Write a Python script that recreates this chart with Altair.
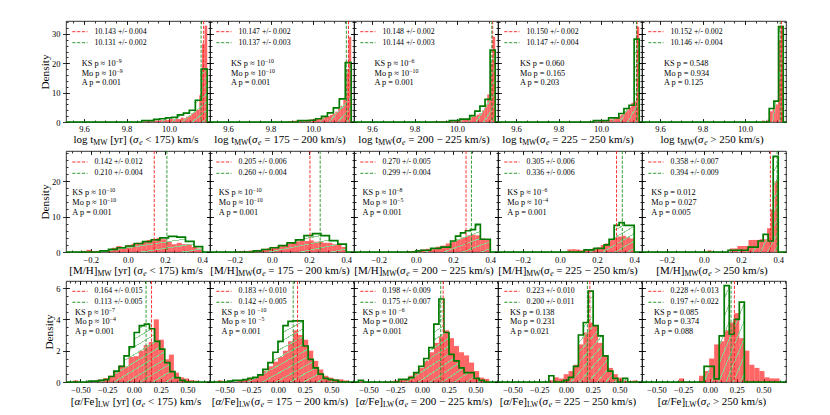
import altair as alt
import numpy as np
import pandas as pd

# ------------------------------------------------------------------ data
# rows: 0 = log t_MW, 1 = [M/H]_MW, 2 = [alpha/Fe]_LW ; 5 sigma_e bins each
AGE_RED_START = [9.88, 9.88, 9.88, 9.88, 9.88]
AGE_RED_WIDTH = [0.0125, 0.0125, 0.0125, 0.0125, 0.0125]
AGE_RED = [
    [0.2, 0.3, 0.3, 0.4, 0.5, 0.4, 0.6, 0.6, 0.8, 0.7, 1.0, 0.9, 1.2, 1.0, 1.5, 1.3, 1.8, 2.2, 3.0, 3.9, 4.2, 9.1, 26.7, 32.8],
    [0.3, 0.3, 0.4, 0.5, 0.5, 0.6, 0.6, 0.7, 0.8, 0.9, 1.0, 1.1, 1.3, 1.5, 1.8, 2.0, 2.4, 2.8, 3.5, 4.5, 5.5, 7.5, 18.0, 29.0],
    [0.1, 0.1, 0.2, 0.2, 0.3, 0.3, 0.4, 0.4, 0.5, 0.6, 0.7, 0.8, 1.0, 1.1, 1.4, 1.7, 2.0, 2.5, 3.0, 4.0, 6.0, 9.4, 20.0, 29.0],
    [0.0, 0.0, 0.0, 0.0, 0.1, 0.1, 0.2, 0.2, 0.3, 0.3, 0.4, 0.5, 0.7, 0.9, 1.2, 1.6, 2.0, 2.5, 3.5, 4.0, 5.0, 6.5, 7.0, 32.5],
    [0, 0, 0, 0, 0, 0, 0, 0, 0, 0, 0, 0, 0, 0, 0, 0, 0.5, 0, 0.8, 3.7, 4.5, 6.0, 28.0, 32.8],
]
AGE_GREEN_START = [9.872, 9.928, 9.964, 9.964, 10.114]
AGE_GREEN_WIDTH = [0.028, 0.028, 0.024, 0.024, 0.022]
AGE_GREEN = [
    [0.5, 0.5, 0.9, 1.1, 1.4, 1.6, 2.4, 3.0, 4.0, 7.4, 18.0],
    [0.5, 0.5, 0.6, 1.1, 1.9, 3.1, 4.8, 7.9, 20.2],
    [0.5, 0.5, 1.0, 1.0, 2.2, 3.7, 5.4, 7.7, 24.5],
    [0.5, 0.5, 0.5, 1.4, 1.4, 2.9, 4.6, 5.7, 28.2],
    [4.6, 7.1, 32.5],
]

MH_RED_START = [-0.25, -0.20, -0.053, 0.04, 0.0]
MH_RED_WIDTH = [0.027, 0.025, 0.0267, 0.0225, 0.02]
MH_RED = [
    [0.3, 0.6, 0.2, 0.3, 0.3, 0.5, 1.2, 1.7, 1.2, 2.0, 2.3, 2.6, 3.1, 3.4, 3.1, 4.0, 3.6, 3.1, 2.2, 2.6, 2.2, 2.2, 1.4, 1.0],
    [0.2, 0.3, 0.2, 0.4, 0.5, 0.6, 0.9, 1.1, 1.4, 1.6, 2.0, 2.3, 2.7, 3.0, 3.3, 3.1, 3.3, 2.9, 3.1, 2.6, 2.6, 2.2, 2.0, 1.4],
    [0.2, 0.3, 0.4, 0.75, 0.9, 1.0, 1.5, 1.8, 2.4, 2.8, 3.6, 4.1, 4.6, 4.9, 4.7, 3.8, 3.4],
    [0.7, 0.8, 0.7, 0.5, 0.5, 0.6, 1.1, 1.3, 2.0, 2.4, 3.6, 4.1, 4.4, 4.6, 4.2, 3.8],
    [0, 0.5, 0, 0, 0, 0, 0, 1.0, 1.0, 1.7, 1.7, 1.7, 3.4, 3.4, 3.4, 3.6, 3.6, 6.7, 12.0, 20.0],
]
MH_GREEN_START = [-0.15, -0.10, 0.0, 0.13, 0.13]
MH_GREEN_WIDTH = [0.046, 0.0455, 0.0267, 0.027, 0.027]
MH_GREEN = [
    [0.3, 0.75, 1.2, 1.7, 2.4, 2.9, 3.4, 4.0, 4.4, 4.2, 3.0, 1.5],
    [0.3, 0.7, 1.2, 1.8, 2.6, 3.4, 4.6, 5.2, 4.6, 3.2, 2.2],
    [0.3, 0.5, 0.5, 1.0, 1.0, 1.4, 1.4, 3.1, 4.5, 5.4, 6.0, 6.3, 7.8, 3.6, 3.6],
    [0.6, 0.6, 1.0, 1.0, 2.0, 3.6, 7.5, 8.3, 7.5, 7.5],
    [0.5, 0.5, 0.5, 0.5, 1.4, 1.4, 3.1, 5.0, 3.1, 27.0],
]

AFE_RED_START = [-0.567, -0.564, -0.594, -0.16, -0.29]
AFE_RED_WIDTH = [0.047, 0.047, 0.047, 0.046, 0.047]
AFE_RED = [
    [0.1, 0, 0, 0.03, 0.1, 0.15, 0.25, 0.4, 0.65, 1.05, 1.0, 1.6, 1.65, 2.0, 2.35, 2.55, 4.0, 2.7, 1.45, 1.75, 0.6, 0.3, 0.22, 0.12, 0.08],
    [0.1, 0.03, 0.03, 0.05, 0.08, 0.15, 0.2, 0.3, 0.5, 0.7, 1.0, 1.3, 1.6, 2.0, 2.6, 3.3, 3.0, 2.7, 2.0, 1.35, 0.8, 0.4, 0.28, 0.17, 0.17, 0.1],
    [0.06, 0, 0, 0, 0, 0, 0.03, 0.1, 0.12, 0.17, 0.4, 0.6, 0.9, 1.35, 1.9, 2.5, 2.9, 3.3, 2.8, 2.3, 1.9, 1.7, 1.24, 0.7, 0.28, 0.2],
    [0.1, 0.3, 0.23, 0.5, 0.7, 1.1, 2.4, 3.16, 3.8, 3.6, 2.5, 1.67, 0.9, 0.5, 0.28, 0.06, 0.06, 0.1],
    [0.23, 0, 0, 0, 0.4, 0.7, 1.5, 2.4, 2.6, 3.3, 3.8, 4.4, 2.8, 2.0, 1.1, 0.9, 0.7, 0.3, 0.23, 0.23],
]
AFE_GREEN_START = [-0.425, -0.47, -0.594, -0.16, -0.055]
AFE_GREEN_WIDTH = [0.0475, 0.047, 0.047, 0.046, 0.047]
AFE_GREEN = [
    [0.05, 0.06, 0.1, 0.15, 0.35, 0.7, 1.0, 1.67, 2.24, 3.16, 3.6, 3.7, 3.4, 2.6, 2.1, 1.24, 0.66, 0.28, 0.1],
    [0.05, 0.1, 0.1, 0.15, 0.23, 0.3, 0.45, 0.8, 1.24, 1.9, 2.6, 3.6, 3.87, 3.9, 3.9, 2.3, 1.45, 0.9, 0.5, 0.23, 0.15, 0.1],
    [0.1, 0, 0, 0, 0, 0, 0, 0, 0.17, 0.17, 0.28, 0.6, 1.0, 1.5, 2.2, 3.7, 5.3, 3.16, 1.77, 1.35, 0.9, 0.6, 0.6, 0.23, 0.1],
    [0.4, 0, 0, 0.1, 0.3, 1.0, 3.0, 3.8, 5.8, 3.6, 2.95, 1.67, 0.7, 0.23, 0, 0.23],
    [1.0, 1.0, 0.2, 2.95, 6.15, 3.05, 4.0, 5.1],
]

# dashed vertical lines (positions) and legend labels
AGE_LINE_RED = [10.163, 10.167, 10.168, 10.170, 10.172]
AGE_LINE_GREEN = [10.151, 10.157, 10.164, 10.167, 10.166]
MH_LINE_RED = [0.142, 0.205, 0.270, 0.305, 0.358]
MH_LINE_GREEN = [0.210, 0.260, 0.299, 0.336, 0.394]
AFE_LINE_RED = [0.164, 0.183, 0.198, 0.223, 0.228]
AFE_LINE_GREEN = [0.113, 0.142, 0.175, 0.200, 0.197]

AGE_LEG_RED = ["10.143 +/- 0.004", "10.147 +/- 0.002", "10.148 +/- 0.002", "10.150 +/- 0.002", "10.152 +/- 0.002"]
AGE_LEG_GREEN = ["10.131 +/- 0.002", "10.137 +/- 0.003", "10.144 +/- 0.003", "10.147 +/- 0.004", "10.146 +/- 0.004"]
MH_LEG_RED = ["0.142 +/- 0.012", "0.205 +/- 0.006", "0.270 +/- 0.005", "0.305 +/- 0.006", "0.358 +/- 0.007"]
MH_LEG_GREEN = ["0.210 +/- 0.004", "0.260 +/- 0.004", "0.299 +/- 0.004", "0.336 +/- 0.006", "0.394 +/- 0.009"]
AFE_LEG_RED = ["0.164 +/- 0.015", "0.183 +/- 0.010", "0.198 +/- 0.009", "0.223 +/- 0.010", "0.228 +/- 0.013"]
AFE_LEG_GREEN = ["0.113 +/- 0.005", "0.142 +/- 0.005", "0.175 +/- 0.007", "0.200 +/- 0.011", "0.197 +/- 0.022"]

# statistics text ("^" starts a superscript)
AGE_STATS = [
    ["KS p ≈ 10^−9", "Mo p ≈ 10^−9", "A p = 0.001"],
    ["KS p ≈ 10^−10", "Mo p ≈ 10^−10", "A p = 0.001"],
    ["KS p ≈ 10^−6", "Mo p ≈ 10^−10", "A p = 0.001"],
    ["KS p = 0.060", "Mo p = 0.165", "A p = 0.203"],
    ["KS p = 0.548", "Mo p = 0.934", "A p = 0.125"],
]
MH_STATS = [
    ["KS p ≈ 10^−10", "Mo p ≈ 10^−10", "A p = 0.001"],
    ["KS p ≈ 10^−10", "Mo p ≈ 10^−10", "A p = 0.001"],
    ["KS p ≈ 10^−8", "Mo p ≈ 10^−5", "A p = 0.001"],
    ["KS p ≈ 10^−6", "Mo p ≈ 10^−4", "A p = 0.001"],
    ["KS p = 0.012", "Mo p = 0.027", "A p = 0.005"],
]
AFE_STATS = [
    ["KS p ≈ 10^−7", "Mo p ≈ 10^−4", "A p = 0.001"],
    ["KS p  ≈ 10^−10", "Mo p  ≈ 10^−5", "A p = 0.001"],
    ["KS p  ≈ 10^−6", "Mo p = 0.002", "A p = 0.001"],
    ["KS p = 0.138", "Mo p = 0.231", "A p = 0.021"],
    ["KS p = 0.085", "Mo p = 0.374", "A p = 0.088"],
]

# axis labels
XLABEL_HEAD = [
    [("log t", "n"), ("MW", "sub")],
    [("[M/H]", "n"), ("MW", "sub")],
    [("[", "n"), ("α", "i"), ("/Fe]", "n"), ("LW", "sub")],
]
XLABEL_OPEN = [" [yr] (", "(", "(", "(", "("]
XLABEL_TAIL = [" < 175) km/s", " = 175 − 200 km/s)", " = 200 − 225 km/s)", " = 225 − 250 km/s)", " > 250 km/s)"]

X_DOMAINS = [[9.515, 10.193], [-0.333, 0.442], [-0.635, 0.71]]
Y_DOMAINS = [[0, 34.4], [0, 28.5], [0, 6.45]]
X_MAJOR = [[9.6, 9.8, 10.0], [-0.2, 0.0, 0.2, 0.4], [-0.5, -0.25, 0.0, 0.25, 0.5]]
X_MINOR_STEP = [0.05, 0.05, 0.05]
Y_MAJOR = [[0, 10, 20, 30], [0, 10, 20], [0, 2, 4, 6]]
Y_MINOR_STEP = [2, 2, 0.5]
X_FORMAT = [".1f", ".1f", ".2f"]

RED_START = [AGE_RED_START, MH_RED_START, AFE_RED_START]
RED_WIDTH = [AGE_RED_WIDTH, MH_RED_WIDTH, AFE_RED_WIDTH]
RED_H = [AGE_RED, MH_RED, AFE_RED]
GREEN_START = [AGE_GREEN_START, MH_GREEN_START, AFE_GREEN_START]
GREEN_WIDTH = [AGE_GREEN_WIDTH, MH_GREEN_WIDTH, AFE_GREEN_WIDTH]
GREEN_H = [AGE_GREEN, MH_GREEN, AFE_GREEN]
LINE_RED = [AGE_LINE_RED, MH_LINE_RED, AFE_LINE_RED]
LINE_GREEN = [AGE_LINE_GREEN, MH_LINE_GREEN, AFE_LINE_GREEN]
LEG_RED = [AGE_LEG_RED, MH_LEG_RED, AFE_LEG_RED]
LEG_GREEN = [AGE_LEG_GREEN, MH_LEG_GREEN, AFE_LEG_GREEN]
STATS = [AGE_STATS, MH_STATS, AFE_STATS]

# ------------------------------------------------------------------ style / layout
FONT = "Liberation Serif"
PW, PH = 144, 101
RED = "#ff0000"
RED_LINE = "#ff1a1a"
GREEN_EDGE = "#007a00"
GREEN_LINE = "#1f8f1f"
HATCH = "#8fcf8f"
DASH = [3.2, 1.6]

LEG_Y = [[10.7, 21.7], [11.0, 22.3], [10.3, 21.3]]
STAT_Y = [[43.3, 52.7, 61.7], [41.7, 51.7, 61.7], [32.3, 41.3, 50.7]]
STAT_X = [[15.7, 21, 20.5, 22, 22], [6.3, 8.8, 8.5, 9.3, 9.3], [9, 11.4, 8.5, 12, 12]]
TITLE_DY = [17.5, 19.0, 19.5]
LABEL_PAD_X = [2.0, 3.5, 3.5]
TITLE_SIZE = 11.0
LEG_SIZE = 7.8
STAT_SIZE = 8.3

WID = {" ": .25, "(": .333, ")": .333, "+": .564, "-": .333, ".": .25, "/": .278,
       "<": .564, "=": .564, ">": .564, "[": .333, "]": .333, "≈": .548, "−": .564,
       "A": .722, "F": .556, "H": .722, "K": .722, "L": .611, "M": .889, "S": .556, "W": .944,
       "a": .444, "e": .444, "g": .5, "k": .5, "l": .278, "m": .778, "o": .5, "p": .5,
       "r": .333, "s": .389, "t": .278, "y": .5, "σ": .55, "α": .53}


def text_width(s, size):
    return sum(WID.get(c, 0.5) for c in s) * size


def pieces_width(pieces, size):
    tot = 0.0
    for txt, kind in pieces:
        sz = size * (0.7 if kind in ("sub", "isub", "sup") else 1.0)
        tot += text_width(txt, sz)
    return tot


def add_pieces(rows, pieces, size, x0, yc):
    x = x0
    for txt, kind in pieces:
        small = kind in ("sub", "isub", "sup")
        sz = size * (0.7 if small else 1.0)
        if kind in ("sub", "isub"):
            dy = 0.28 * size
        elif kind == "sup":
            dy = -0.38 * size
        else:
            dy = 0.0
        lead = len(txt) - len(txt.lstrip(" "))
        x += lead * WID[" "] * sz
        body = txt.strip(" ")
        if body:
            rows.append({"px": x, "py": yc + dy, "t": body, "s": sz, "it": kind in ("i", "isub")})
        x += text_width(txt.lstrip(" "), sz)
    return x


def hatch(wpx, hpx, period=6.5, thick=1.0):
    wpx = max(wpx, 2.0)
    hpx = max(hpx, 2.0)
    g = 0.5 * np.sqrt(1.0 / wpx ** 2 + 1.0 / hpx ** 2)
    n = max(1, int(round(1.0 / (g * period))))
    th = thick * g
    clear = "rgba(143,207,143,0)"
    stops = [alt.GradientStop(offset=0.0, color=clear)]
    for i in range(n):
        c = (i + 0.5) / n
        a, b = max(0.0, c - th / 2), min(1.0, c + th / 2)
        stops += [alt.GradientStop(offset=float(a), color=clear),
                  alt.GradientStop(offset=float(a), color=HATCH),
                  alt.GradientStop(offset=float(b), color=HATCH),
                  alt.GradientStop(offset=float(b), color=clear)]
    stops.append(alt.GradientStop(offset=1.0, color=clear))
    return alt.LinearGradient(gradient="linear", stops=stops, x1=0, y1=0, x2=1, y2=1)


def make_axis(orient, values, size, offset, labels=False, fmt=None, pad=2.0, title=None):
    kw = dict(orient=orient, values=[float(v) for v in values], tickSize=size, offset=offset,
              labels=labels, domain=False, grid=False, ticks=True, tickColor="black",
              tickWidth=0.8, title=title)
    if labels:
        kw.update(labelFont=FONT, labelFontSize=8.5, labelColor="black", labelPadding=pad,
                  labelFlush=False, labelOverlap=False)
        if fmt:
            kw["format"] = fmt
    if title:
        kw.update(titleFont=FONT, titleFontSize=11.3, titleFontWeight="normal",
                  titleColor="black", titlePadding=1)
    return alt.Axis(**kw)


def minor_values(lo, hi, step):
    v = np.arange(np.ceil(lo / step) * step, hi + 1e-9, step)
    return [round(float(a), 4) for a in v if lo <= a <= hi]


def make_panel(r, k):
    xd, yd = X_DOMAINS[r], Y_DOMAINS[r]
    xs = alt.Scale(domain=xd, nice=False, zero=False)
    ys = alt.Scale(domain=yd, nice=False, zero=False)
    sx = PW / (xd[1] - xd[0])
    sy = PH / (yd[1] - yd[0])

    def X(p):
        return xd[0] + p / sx

    def Y(p):
        return yd[1] - p / sy

    # red histogram
    rs, rw, rh = RED_START[r][k], RED_WIDTH[r][k], RED_H[r][k]
    red = pd.DataFrame({"x0": [rs + i * rw for i in range(len(rh))],
                        "x1": [rs + (i + 1) * rw for i in range(len(rh))],
                        "h": [float(v) for v in rh]})
    red["z"] = 0.0

    # green histogram
    gs, gw, gh = GREEN_START[r][k], GREEN_WIDTH[r][k], GREEN_H[r][k]
    edges = [gs + i * gw for i in range(len(gh) + 1)]
    area = pd.DataFrame({"x": edges, "y": [float(v) for v in gh] + [float(gh[-1])]})
    area["z"] = 0.0
    ox, oy = [xd[0], edges[0]], [0.0, 0.0]
    for i, h in enumerate(gh):
        ox += [edges[i], edges[i + 1]]
        oy += [float(h), float(h)]
    ox += [edges[-1], xd[1]]
    oy += [0.0, 0.0]
    outline = pd.DataFrame({"x": ox, "y": oy, "o": list(range(len(ox)))})

    xmaj, ymaj = X_MAJOR[r], Y_MAJOR[r]
    xmin = minor_values(xd[0], xd[1], X_MINOR_STEP[r])
    ymin = minor_values(yd[0], yd[1], Y_MINOR_STEP[r])

    ax_xb = make_axis("bottom", xmaj, 3.5, -3.5, labels=True, fmt=X_FORMAT[r], pad=LABEL_PAD_X[r])
    ax_yl = make_axis("left", ymaj, 7, -3.5, labels=(k == 0), fmt="d", pad=2.5,
                      title=("Density" if k == 0 else None))
    ax_xt = make_axis("top", xmaj, 3.5, -3.5)
    ax_yr = make_axis("right", ymaj, 3.5, -3.5)
    ax_xbm = make_axis("bottom", xmin, 2, -2)
    ax_ylm = make_axis("left", ymin, 2, -2)
    ax_xtm = make_axis("top", xmin, 2, -2)
    ax_yrm = make_axis("right", ymin, 2, -2)

    bars = alt.Chart(red).mark_rect(color=RED, opacity=0.6).encode(
        x=alt.X("x0:Q", scale=xs, axis=ax_xb), x2="x1:Q",
        y=alt.Y("h:Q", scale=ys, axis=ax_yl), y2="z:Q")

    wpx = (edges[-1] - edges[0]) * sx
    hpx = max(gh) * sy
    hatch_area = alt.Chart(area).mark_area(interpolate="step-after", color=hatch(wpx, hpx),
                                           strokeWidth=0).encode(
        x=alt.X("x:Q", scale=xs, axis=ax_xt),
        y=alt.Y("y:Q", scale=ys, axis=ax_yr, stack=None), y2="z:Q")

    line = alt.Chart(outline).mark_line(color=GREEN_EDGE, strokeWidth=1.7).encode(
        x=alt.X("x:Q", scale=xs, axis=ax_xbm),
        y=alt.Y("y:Q", scale=ys, axis=ax_ylm), order="o:Q")

    ghost = alt.Chart(red).mark_point(opacity=0).encode(
        x=alt.X("x0:Q", scale=xs, axis=ax_xtm),
        y=alt.Y("h:Q", scale=ys, axis=ax_yrm))

    vl = pd.DataFrame({"x": [LINE_RED[r][k], LINE_GREEN[r][k]], "c": [RED_LINE, GREEN_LINE]})
    vlines = alt.Chart(vl).mark_rule(strokeDash=DASH, strokeWidth=0.9).encode(
        x=alt.X("x:Q", scale=xs, axis=None), color=alt.Color("c:N", scale=None))

    leg = pd.DataFrame({"a": [X(6.3), X(6.3)], "b": [X(21.5), X(21.5)],
                        "y": [Y(LEG_Y[r][0]), Y(LEG_Y[r][1])], "c": [RED_LINE, GREEN_LINE]})
    legrules = alt.Chart(leg).mark_rule(strokeDash=DASH, strokeWidth=0.9).encode(
        x=alt.X("a:Q", scale=xs, axis=None), x2="b:Q",
        y=alt.Y("y:Q", scale=ys, axis=None), color=alt.Color("c:N", scale=None))

    rows = []
    add_pieces(rows, [(LEG_RED[r][k], "n")], LEG_SIZE, 28.5, LEG_Y[r][0])
    add_pieces(rows, [(LEG_GREEN[r][k], "n")], LEG_SIZE, 28.5, LEG_Y[r][1])
    for j, s in enumerate(STATS[r][k]):
        parts = s.split("^")
        pcs = [(parts[0], "n")] + ([(parts[1], "sup")] if len(parts) > 1 else [])
        add_pieces(rows, pcs, STAT_SIZE, STAT_X[r][k], STAT_Y[r][j])
    title = XLABEL_HEAD[r] + [(XLABEL_OPEN[k], "n"), ("σ", "i"), ("e", "isub"), (XLABEL_TAIL[k], "n")]
    tw = pieces_width(title, TITLE_SIZE)
    add_pieces(rows, title, TITLE_SIZE, PW / 2 - 2 - tw / 2, PH + TITLE_DY[r])
    tdf = pd.DataFrame(rows)
    tdf["x"] = [X(p) for p in tdf.px]
    tdf["y"] = [Y(p) for p in tdf.py]

    def txt_layer(df, italic):
        m = alt.Chart(df).mark_text(align="left", baseline="middle", font=FONT, color="black",
                                    fontStyle=("italic" if italic else "normal"))
        return m.encode(x=alt.X("x:Q", scale=xs, axis=None), y=alt.Y("y:Q", scale=ys, axis=None),
                        text="t:N", size=alt.Size("s:Q", scale=None))

    tn = txt_layer(tdf[~tdf.it].drop(columns=["it"]), False)
    ti = txt_layer(tdf[tdf.it].drop(columns=["it"]), True)

    return alt.layer(bars, hatch_area, line, ghost, vlines, legrules, tn, ti).resolve_axis(
        x="independent", y="independent").properties(width=PW, height=PH)


panels = [make_panel(r, k) for r in range(3) for k in range(5)]

chart = alt.concat(*panels, columns=5, spacing={"row": 29, "column": 0}, bounds="flush").properties(
    padding={"left": 31, "top": 12, "right": 5, "bottom": 5}
).configure_view(stroke="black", strokeWidth=0.8).configure_axis(grid=False, domain=False)

chart.save("out.html", embed_options={"renderer": "svg", "actions": False})
